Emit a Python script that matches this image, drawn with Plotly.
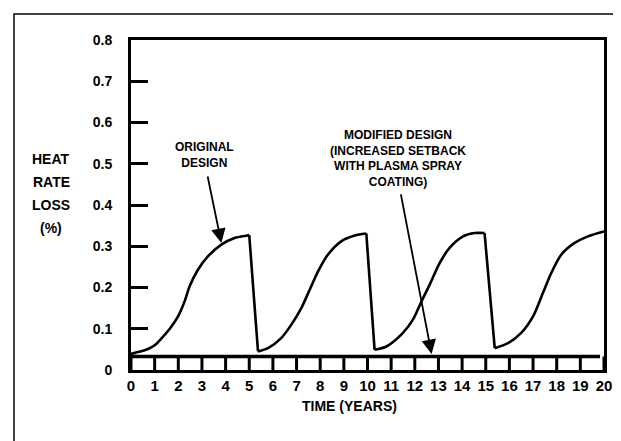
import plotly.graph_objects as go

# Heat rate loss of the original design (drops at each overhaul)
original_time = [0, 0.35, 0.72, 1.0, 1.28, 1.64, 1.99, 2.27, 2.48, 2.83, 3.26, 3.82, 4.38, 4.92, 5.0,
                 5.37, 5.79, 6.36, 6.78, 7.2, 7.56, 7.91, 8.33, 8.89, 9.46, 9.95,
                 10.3, 10.8, 11.5, 11.92, 12.27, 12.63, 13.05, 13.47, 14.04, 14.53, 14.95,
                 15.38, 15.94, 16.5, 17.0, 17.42, 17.77, 18.2, 18.76, 19.32, 20.0]
original_loss = [0.039, 0.044, 0.051, 0.06, 0.076, 0.1, 0.13, 0.167, 0.203, 0.243, 0.276, 0.304, 0.32, 0.326, 0.327,
                 0.045, 0.053, 0.078, 0.11, 0.15, 0.195, 0.239, 0.28, 0.312, 0.326, 0.331,
                 0.049, 0.057, 0.09, 0.122, 0.165, 0.207, 0.259, 0.296, 0.324, 0.332, 0.332,
                 0.053, 0.065, 0.09, 0.13, 0.187, 0.235, 0.28, 0.308, 0.324, 0.336]

# Modified design stays flat
modified_time = [0, 19.83]
modified_loss = [0.033, 0.033]

years = list(range(0, 21))
y_ticks = [0, 0.1, 0.2, 0.3, 0.4, 0.5, 0.6, 0.7, 0.8]
y_tick_text = ["0", "0.1", "0.2", "0.3", "0.4", "0.5", "0.6", "0.7", "0.8"]
y_label_lines = ["HEAT", "RATE", "LOSS", "(%)"]

FONT = "Liberation Sans"
BOLD = dict(family=FONT, size=14, color="black", weight="bold")

fig = go.Figure()

# little boxes under the modified-design line, one divider per year
for yr in years:
    fig.add_trace(go.Scatter(x=[yr, yr], y=[0, modified_loss[0]], mode="lines",
                             line=dict(color="black", width=3), hoverinfo="skip", showlegend=False))

fig.add_trace(go.Scatter(x=modified_time, y=modified_loss, mode="lines",
                         line=dict(color="black", width=3.5), showlegend=False))

# split the sawtooth: smooth rising parts, straight drops
start = 0
for i in range(1, len(original_loss)):
    if original_loss[i] < original_loss[i - 1] - 0.1:
        fig.add_trace(go.Scatter(x=original_time[start:i], y=original_loss[start:i], mode="lines",
                                 line=dict(color="black", width=2.6, shape="spline", smoothing=0.8),
                                 showlegend=False))
        fig.add_trace(go.Scatter(x=original_time[i - 1:i + 1], y=original_loss[i - 1:i + 1], mode="lines",
                                 line=dict(color="black", width=2.6), showlegend=False))
        start = i
fig.add_trace(go.Scatter(x=original_time[start:], y=original_loss[start:], mode="lines",
                         line=dict(color="black", width=2.6, shape="spline", smoothing=0.8),
                         showlegend=False))

fig.update_layout(
    width=621, height=441,
    margin=dict(l=123, r=25, t=32, b=79),
    paper_bgcolor="white", plot_bgcolor="white",
    showlegend=False,
    xaxis=dict(range=[0, 20], tickvals=years, ticktext=[str(y) for y in years],
               showgrid=False, zeroline=False, showline=True, mirror=True,
               linecolor="black", linewidth=3, ticks="", ticklabelstandoff=0,
               tickfont=dict(family=FONT, size=15, color="black", weight="bold")),
    yaxis=dict(range=[0, 0.8], tickvals=y_ticks, ticktext=y_tick_text,
               showgrid=False, zeroline=False, showline=True, mirror=True,
               linecolor="black", linewidth=3, ticks="inside", ticklen=17,
               tickwidth=3, tickcolor="black", ticklabelstandoff=13,
               tickfont=BOLD),
)

# y label, one line per annotation to get the wide line spacing
for i, line in enumerate(y_label_lines):
    fig.add_annotation(text=line, xref="paper", yref="paper",
                       x=(43 - 123) / 473, y=(362 - (151 + 23 * i)) / 330,
                       xanchor="center", yanchor="middle", showarrow=False, font=BOLD)

fig.add_annotation(text="TIME (YEARS)", xref="paper", yref="paper",
                   x=(341 - 123) / 473, y=(362 - 398) / 330,
                   xanchor="center", yanchor="middle", showarrow=False, font=BOLD)

# callouts
fig.add_annotation(text="ORIGINAL<br>DESIGN", xref="paper", yref="paper",
                   x=(196 - 123) / 473, y=(362 - 147) / 330,
                   xanchor="center", yanchor="middle", showarrow=False,
                   font=dict(family=FONT, size=12, color="black", weight="bold"))
fig.add_annotation(text="", x=3.82, y=0.308, ax=-14, ay=-68, showarrow=True,
                   arrowhead=2, arrowsize=1.6, arrowwidth=1.8, arrowcolor="black", standoff=0)

fig.add_annotation(text="MODIFIED DESIGN<br>(INCREASED SETBACK<br>WITH PLASMA SPRAY<br>COATING)",
                   xref="paper", yref="paper",
                   x=(390 - 123) / 473, y=(362 - 150) / 330,
                   xanchor="center", yanchor="middle", showarrow=False,
                   font=dict(family=FONT, size=12, color="black", weight="bold"))
fig.add_annotation(text="", x=12.71, y=0.039, ax=-31, ay=-161, showarrow=True,
                   arrowhead=2, arrowsize=1.6, arrowwidth=1.8, arrowcolor="black", standoff=0)

# thin outer frame of the scanned page
fig.add_shape(type="rect", xref="paper", yref="paper",
              x0=(6 - 123) / 473, x1=(615 - 123) / 473,
              y0=(362 - 450) / 330, y1=(362 - 6) / 330,
              line=dict(color="black", width=1.5), layer="above")

fig.write_html("out.html")
